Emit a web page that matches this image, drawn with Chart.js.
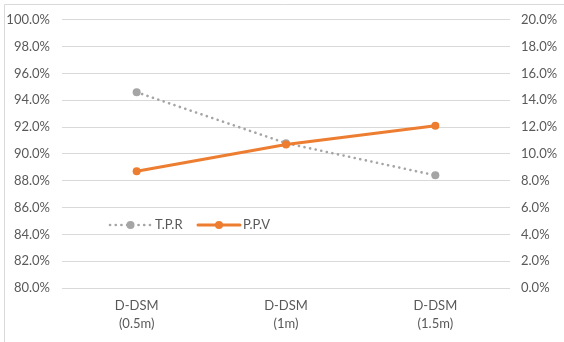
<!DOCTYPE html>
<html>
<head>
<meta charset="utf-8">
<script src="https://cdn.jsdelivr.net/npm/chart.js@4/dist/chart.umd.min.js"></script>
<style>
  html, body { margin: 0; padding: 0; background: #fff; }
  #wrap { position: relative; width: 564px; height: 342px; }
</style>
</head>
<body>
<div id="wrap"><canvas id="c" width="564" height="342"></canvas></div>
<script>
// Detection accuracy by DSM resolution
const categories = [["D-DSM", "(0.5m)"], ["D-DSM", "(1m)"], ["D-DSM", "(1.5m)"]];
const tprValues = [94.6, 90.8, 88.4];   // left axis, %
const ppvValues = [8.7, 10.7, 12.1];    // right axis, %
const seriesNames = ["T.P.R", "P.P.V"];

const FONT = "Lato, 'Open Sans', sans-serif";
const TEXT = "#595959";
const GRID = "#d9d9d9";
const GRAY = "#a5a5a5";
const ORANGE = "#ed7d31";
const FS = 13;

// frame around the whole drawing plus an in-plot legend
const decor = {
  id: "decor",
  afterDraw(chart) {
    const ctx = chart.ctx;
    ctx.save();
    ctx.strokeStyle = "#d9d9d9";
    ctx.lineWidth = 1;
    ctx.beginPath();
    ctx.moveTo(4.5, 400);
    ctx.lineTo(4.5, 4.5);
    ctx.lineTo(700, 4.5);
    ctx.stroke();

    const y = 225;
    const items = [
      { ds: chart.data.datasets[0], x0: 110, x1: 151, tx: 155 },
      { ds: chart.data.datasets[1], x0: 198, x1: 240, tx: 243 }
    ];
    items.forEach(it => {
      ctx.save();
      ctx.strokeStyle = it.ds.borderColor;
      ctx.lineWidth = it.ds.borderWidth;
      ctx.lineCap = it.ds.borderCapStyle || "butt";
      ctx.setLineDash(it.ds.borderDash || []);
      ctx.beginPath();
      ctx.moveTo(it.x0, y);
      ctx.lineTo(it.x1, y);
      ctx.stroke();
      ctx.setLineDash([]);
      ctx.fillStyle = it.ds.pointBackgroundColor;
      ctx.beginPath();
      ctx.arc((it.x0 + it.x1) / 2, y, it.ds.pointRadius, 0, Math.PI * 2);
      ctx.fill();
      ctx.restore();
      ctx.fillStyle = TEXT;
      ctx.font = FS + "px " + FONT;
      ctx.textBaseline = "middle";
      ctx.textAlign = "left";
      ctx.fillText(it.ds.label, it.tx, y);
    });
    ctx.restore();
  }
};

new Chart(document.getElementById("c"), {
  type: "line",
  data: {
    labels: categories,
    datasets: [
      {
        label: seriesNames[0],
        data: tprValues,
        yAxisID: "y",
        borderColor: GRAY,
        backgroundColor: GRAY,
        pointBackgroundColor: GRAY,
        pointBorderColor: GRAY,
        borderWidth: 2.6,
        borderDash: [0.1, 5.6],
        borderCapStyle: "round",
        pointRadius: 4,
        pointBorderWidth: 0,
        tension: 0,
        order: 1
      },
      {
        label: seriesNames[1],
        data: ppvValues,
        yAxisID: "y1",
        borderColor: ORANGE,
        backgroundColor: ORANGE,
        pointBackgroundColor: ORANGE,
        pointBorderColor: ORANGE,
        borderWidth: 3,
        borderCapStyle: "round",
        pointRadius: 4,
        pointBorderWidth: 0,
        tension: 0,
        order: 0
      }
    ]
  },
  options: {
    responsive: false,
    animation: false,
    devicePixelRatio: 1,
    layout: { padding: { top: 15, bottom: 0, left: 0, right: 0 } },
    plugins: { legend: { display: false }, tooltip: { enabled: false } },
    scales: {
      x: {
        offset: true,
        grid: { display: false, drawTicks: false },
        border: { display: false },
        ticks: { color: TEXT, font: { family: FONT, size: FS, lineHeight: 1.4 }, padding: 9, maxRotation: 0 },
        afterFit(s) { s.height = 54; }
      },
      y: {
        position: "left",
        min: 80, max: 100,
        grid: { color: GRID, drawTicks: false },
        border: { display: false },
        ticks: {
          stepSize: 2, color: TEXT, font: { family: FONT, size: FS }, padding: 12,
          callback: v => v.toFixed(1) + "%"
        },
        afterFit(s) { s.width = 62; }
      },
      y1: {
        position: "right",
        min: 0, max: 20,
        grid: { display: false, drawTicks: false },
        border: { display: false },
        ticks: {
          stepSize: 2, color: TEXT, font: { family: FONT, size: FS }, padding: 11,
          callback: v => v.toFixed(1) + "%"
        },
        afterFit(s) { s.width = 54; }
      }
    }
  },
  plugins: [decor]
});
</script>
</body>
</html>
